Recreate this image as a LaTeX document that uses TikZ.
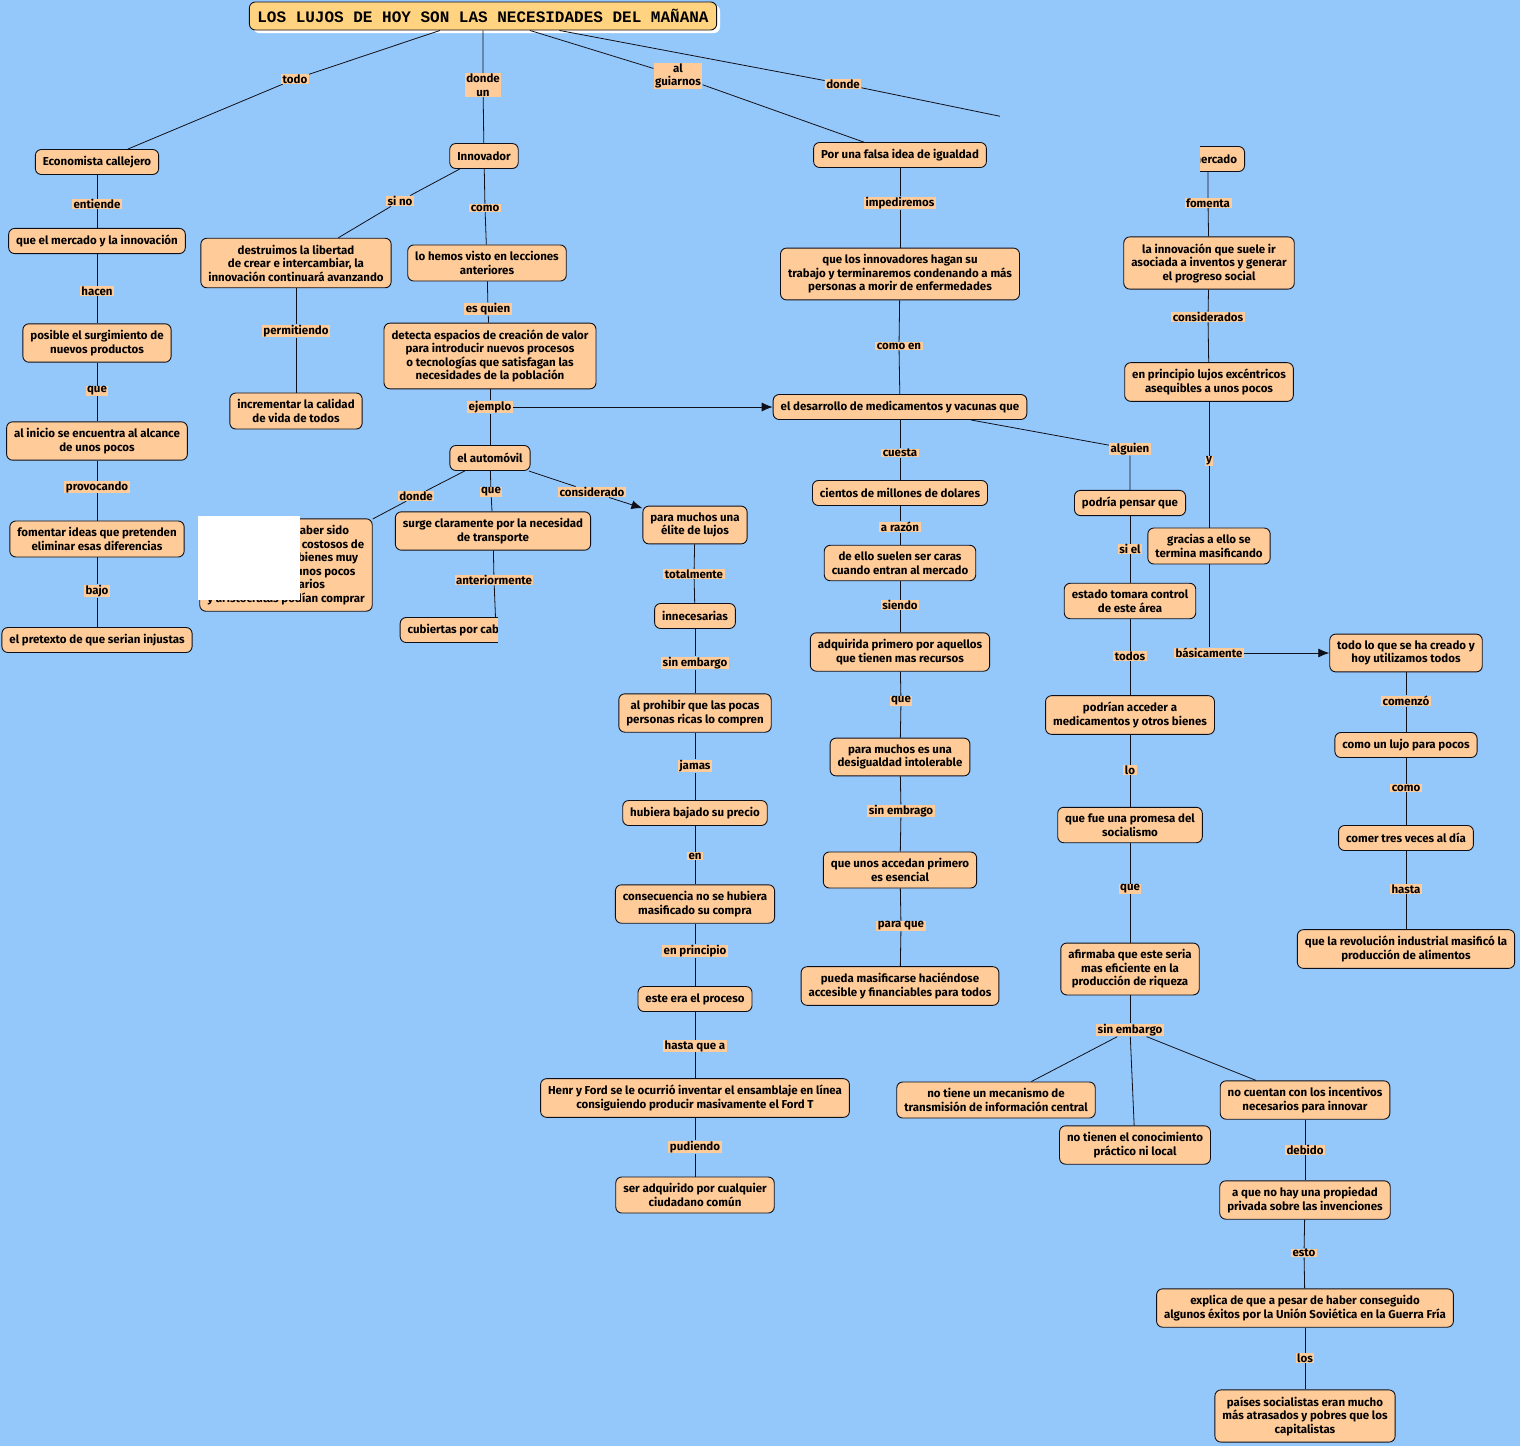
\documentclass[tikz,border=0pt]{standalone}
\usepackage{fontspec}
\setmainfont{Fira Sans}
\newfontfamily\titlefont{Liberation Mono}
\usetikzlibrary{arrows.meta}
\definecolor{MapSky}{RGB}{149,200,250}
\definecolor{MapPeach}{RGB}{255,204,153}
\definecolor{MapGold}{RGB}{255,211,127}
\definecolor{MapInk}{RGB}{15,15,25}
\tikzset{
  map/concept/.style={
    draw=MapInk,
    line width=0.9pt,
    rounded corners=6pt,
    fill=MapPeach,
    align=center,
    text=black,
    inner xsep=7.5pt,
    inner ysep=6.5pt,
    minimum height=25pt,
    font=\fontsize{11.5}{13.5}\selectfont\bfseries
  },
  map/link/.style={
    fill=MapPeach,
    align=center,
    text=black,
    inner xsep=1.5pt,
    inner ysep=0.5pt,
    font=\fontsize{11.5}{13.5}\selectfont\bfseries
  },
  map/title/.style={
    draw=MapInk,
    line width=0.9pt,
    rounded corners=6pt,
    fill=MapGold,
    inner xsep=8pt,
    minimum height=28pt,
    font=\titlefont\fontsize{16}{18}\selectfont\bfseries
  },
  map/line/.style={draw=MapInk, line width=0.8pt},
  map/arrow/.style={map/line, -{Latex[length=11pt,width=9pt]}},
  map/patch/.style={fill=MapSky, draw=none}
}

\begin{document}
\begin{tikzpicture}[x=1pt,y=-1pt]
  \fill[MapSky] (0,0) rectangle (1520,1446);
  \useasboundingbox (0,0) rectangle (1520,1446);
  \fill[white, rounded corners=6pt] (253,5) rectangle (720,33);
  \node[map/title] (title) at (483,16) {LOS LUJOS DE HOY SON LAS NECESIDADES DEL MAÑANA};

  % columna izquierda
  \node[map/concept] (econ) at (97,162) {Economista callejero};
  \node[map/concept] (merc) at (97,241) {que el mercado y la innovación};
  \node[map/concept] (posib) at (97,343) {posible el surgimiento de\\nuevos productos};
  \node[map/concept] (inicio) at (97,441) {al inicio se encuentra al alcance\\de unos pocos};
  \node[map/concept] (foment) at (97,539) {fomentar ideas que pretenden\\eliminar esas diferencias};
  \node[map/concept] (pretex) at (97,640) {el pretexto de que serian injustas};

  \node[map/concept] (destr) at (296,263) {destruimos la libertad\\de crear e intercambiar, la\\innovación continuará avanzando};
  \node[map/concept] (increm) at (296,411) {incrementar la calidad\\de vida de todos};
  \node[map/concept] (haber) at (286,565) {que antes de haber sido\\masificados, eran costosos de\\producir, y eran bienes muy\\exclusivos que unos pocos\\los millonarios\\y aristócratas podían comprar};

  % innovador
  \node[map/concept] (innov) at (484,156) {Innovador};
  \node[map/concept] (lohem) at (487,263) {lo hemos visto en lecciones\\anteriores};
  \node[map/concept] (detecta) at (490,356) {detecta espacios de creación de valor\\para introducir nuevos procesos\\o tecnologías que satisfagan las\\necesidades de la población};
  \node[map/concept] (auto) at (490,458) {el automóvil};
  \node[map/concept] (surge) at (493,531) {surge claramente por la necesidad\\de transporte};
  \node[map/concept] (cubier) at (496,630) {cubiertas por caballos y carruajes};

  \node[map/concept] (elite) at (695,525) {para muchos una\\élite de lujos};
  \node[map/concept] (innec) at (695,616) {innecesarias};
  \node[map/concept] (prohib) at (695,713) {al prohibir que las pocas\\personas ricas lo compren};
  \node[map/concept] (bajado) at (695,813) {hubiera bajado su precio};
  \node[map/concept] (consec) at (695,904) {consecuencia no se hubiera\\masificado su compra};
  \node[map/concept] (proceso) at (695,999) {este era el proceso};
  \node[map/concept] (henry) at (695,1098) {Henr y Ford se le ocurrió inventar el ensamblaje en línea\\consiguiendo producir masivamente el Ford T};
  \node[map/concept] (ciudad) at (695,1195) {ser adquirido por cualquier\\ciudadano común};

  % igualdad
  \node[map/concept] (falsa) at (900,155) {Por una falsa idea de igualdad};
  \node[map/concept] (innovad) at (900,274) {que los innovadores hagan su\\trabajo y terminaremos condenando a más\\personas a morir de enfermedades};
  \node[map/concept] (desarr) at (900,407) {el desarrollo de medicamentos y vacunas que};
  \node[map/concept] (cientos) at (900,493) {cientos de millones de dolares};
  \node[map/concept] (caras) at (900,563) {de ello suelen ser caras\\cuando entran al mercado};
  \node[map/concept] (adquir) at (900,652) {adquirida primero por aquellos\\que tienen mas recursos};
  \node[map/concept] (desig) at (900,757) {para muchos es una\\desigualdad intolerable};
  \node[map/concept] (unos) at (900,870) {que unos accedan primero\\es esencial};
  \node[map/concept] (masif) at (900,986) {pueda masificarse haciéndose\\accesible y financiables para todos};

  \node[map/concept] (podria) at (1130,503) {podría pensar que};
  \node[map/concept] (estado) at (1130,601) {estado tomara control\\de este área};
  \node[map/concept] (podrian) at (1130,715) {podrían acceder a\\medicamentos y otros bienes};
  \node[map/concept] (promesa) at (1130,825) {que fue una promesa del\\socialismo};
  \node[map/concept] (afirma) at (1130,969) {afirmaba que este seria\\mas eficiente en la\\producción de riqueza};
  \node[map/concept] (mecan) at (996,1100) {no tiene un mecanismo de\\transmisión de información central};
  \node[map/concept] (conoc) at (1135,1145) {no tienen el conocimiento\\práctico ni local};
  \node[map/concept] (incent) at (1305,1100) {no cuentan con los incentivos\\necesarios para innovar};
  \node[map/concept] (propied) at (1305,1200) {a que no hay una propiedad\\privada sobre las invenciones};
  \node[map/concept] (explica) at (1305,1308) {explica de que a pesar de haber conseguido\\algunos éxitos por la Unión Soviética en la Guerra Fría};
  \node[map/concept] (paises) at (1305,1416) {países socialistas eran mucho\\más atrasados y pobres que los\\capitalistas};

  % mercado
  \node[map/concept] (mercado) at (1208,159) {el mercado};
  \node[map/concept] (lainn) at (1209,263) {la innovación que suele ir\\asociada a inventos y generar\\el progreso social};
  \node[map/concept] (princ) at (1209,382) {en principio lujos excéntricos\\asequibles a unos pocos};
  \node[map/concept] (gracias) at (1209,546) {gracias a ello se\\termina masificando};
  \node[map/concept] (todo) at (1406,653) {todo lo que se ha creado y\\hoy utilizamos todos};
  \node[map/concept] (lujo) at (1406,745) {como un lujo para pocos};
  \node[map/concept] (comer) at (1406,838) {comer tres veces al día};
  \node[map/concept] (revol) at (1406,949) {que la revolución industrial masificó la\\producción de alimentos};

  % etiquetas de enlace
  \node[map/link] (l-todo) at (295,79) {todo};
  \node[map/link] (l-dondeun) at (483,85) {donde\\un};
  \node[map/link] (l-guiar) at (678,76) {al\\guiarnos};
  \node[map/link] (l-donde) at (843,84) {donde};
  \node[map/link] (l-entiende) at (97,204) {entiende};
  \node[map/link] (l-hacen) at (97,291) {hacen};
  \node[map/link] (l-que1) at (97,391) {que};
  \node[map/link] (l-provoc) at (97,487) {provocando};
  \node[map/link] (l-bajo) at (97,591) {bajo};
  \node[map/link] (l-sino) at (400,201) {si no};
  \node[map/link] (l-permit) at (296,331) {permitiendo};
  \node[map/link] (l-como1) at (485,208) {como};
  \node[map/link] (l-esquien) at (488,309) {es quien};
  \node[map/link] (l-ejemplo) at (490,407) {ejemplo};
  \node[map/link] (l-donde2) at (416,496) {donde};
  \node[map/link] (l-que2) at (491,492) {que};
  \node[map/link] (l-consid) at (592,492) {considerado};
  \node[map/link] (l-anter) at (494,580) {anteriormente};
  \node[map/link] (l-total) at (694,574) {totalmente};
  \node[map/link] (l-sinemb1) at (695,663) {sin embargo};
  \node[map/link] (l-jamas) at (695,766) {jamas};
  \node[map/link] (l-en) at (695,856) {en};
  \node[map/link] (l-enprinc) at (695,951) {en principio};
  \node[map/link] (l-hasta) at (695,1046) {hasta que a};
  \node[map/link] (l-pudiendo) at (695,1147) {pudiendo};
  \node[map/link] (l-imped) at (900,203) {impediremos};
  \node[map/link] (l-comoen) at (899,346) {como en};
  \node[map/link] (l-cuesta) at (900,453) {cuesta};
  \node[map/link] (l-alguien) at (1130,449) {alguien};
  \node[map/link] (l-razon) at (900,527) {a razón};
  \node[map/link] (l-siendo) at (900,605) {siendo};
  \node[map/link] (l-que3) at (901,701) {que};
  \node[map/link] (l-sinembr) at (901,811) {sin embrago};
  \node[map/link] (l-paraque) at (901,926) {para que};
  \node[map/link] (l-siel) at (1130,549) {si el};
  \node[map/link] (l-todos) at (1130,656) {todos};
  \node[map/link] (l-lo) at (1130,770) {lo};
  \node[map/link] (l-que4) at (1130,889) {que};
  \node[map/link] (l-sinemb2) at (1130,1030) {sin embargo};
  \node[map/link] (l-debido) at (1305,1150) {debido};
  \node[map/link] (l-esto) at (1304,1253) {esto};
  \node[map/link] (l-los) at (1305,1358) {los};
  \node[map/link] (l-fomenta) at (1208,203) {fomenta};
  \node[map/link] (l-consids) at (1208,317) {considerados};
  \node[map/link] (l-y) at (1209,461) {y};
  \node[map/link] (l-basic) at (1209,653) {básicamente};
  \node[map/link] (l-comenzo) at (1406,701) {comenzó};
  \node[map/link] (l-como2) at (1406,788) {como};
  \node[map/link] (l-hasta2) at (1406,889) {hasta};

  % conexiones
  \draw[map/line] (title) -- (l-todo) -- (econ);
  \draw[map/line] (title) -- (l-dondeun) -- (innov);
  \draw[map/line] (title) -- (l-guiar) -- (falsa);
  \draw[map/line] (title) -- (l-donde) -- (mercado);
  \draw[map/line] (econ) -- (l-entiende) -- (merc);
  \draw[map/line] (merc) -- (l-hacen) -- (posib);
  \draw[map/line] (posib) -- (l-que1) -- (inicio);
  \draw[map/line] (inicio) -- (l-provoc) -- (foment);
  \draw[map/line] (foment) -- (l-bajo) -- (pretex);
  \draw[map/line] (innov) -- (l-sino) -- (destr);
  \draw[map/line] (destr) -- (l-permit) -- (increm);
  \draw[map/line] (innov) -- (l-como1) -- (lohem);
  \draw[map/line] (lohem) -- (l-esquien) -- (detecta);
  \draw[map/line] (detecta) -- (l-ejemplo) -- (auto);
  \draw[map/arrow] (l-ejemplo) -- (desarr);
  \draw[map/line] (auto) -- (l-donde2) -- (haber);
  \draw[map/line] (auto) -- (l-que2) -- (surge);
  \draw[map/line] (auto) -- (l-consid);
  \draw[map/arrow] (l-consid) -- (elite);
  \draw[map/line] (surge) -- (l-anter) -- (cubier);
  \draw[map/line] (elite) -- (l-total) -- (innec);
  \draw[map/line] (innec) -- (l-sinemb1) -- (prohib);
  \draw[map/line] (prohib) -- (l-jamas) -- (bajado);
  \draw[map/line] (bajado) -- (l-en) -- (consec);
  \draw[map/line] (consec) -- (l-enprinc) -- (proceso);
  \draw[map/line] (proceso) -- (l-hasta) -- (henry);
  \draw[map/line] (henry) -- (l-pudiendo) -- (ciudad);
  \draw[map/line] (falsa) -- (l-imped) -- (innovad);
  \draw[map/line] (innovad) -- (l-comoen) -- (desarr);
  \draw[map/line] (desarr) -- (l-cuesta) -- (cientos);
  \draw[map/line] (desarr) -- (l-alguien) -- (podria);
  \draw[map/line] (cientos) -- (l-razon) -- (caras);
  \draw[map/line] (caras) -- (l-siendo) -- (adquir);
  \draw[map/line] (adquir) -- (l-que3) -- (desig);
  \draw[map/line] (desig) -- (l-sinembr) -- (unos);
  \draw[map/line] (unos) -- (l-paraque) -- (masif);
  \draw[map/line] (podria) -- (l-siel) -- (estado);
  \draw[map/line] (estado) -- (l-todos) -- (podrian);
  \draw[map/line] (podrian) -- (l-lo) -- (promesa);
  \draw[map/line] (promesa) -- (l-que4) -- (afirma);
  \draw[map/line] (afirma) -- (l-sinemb2);
  \draw[map/line] (l-sinemb2) -- (mecan);
  \draw[map/line] (l-sinemb2) -- (conoc);
  \draw[map/line] (l-sinemb2) -- (incent);
  \draw[map/line] (incent) -- (l-debido) -- (propied);
  \draw[map/line] (propied) -- (l-esto) -- (explica);
  \draw[map/line] (explica) -- (l-los) -- (paises);
  \draw[map/line] (mercado) -- (l-fomenta) -- (lainn);
  \draw[map/line] (lainn) -- (l-consids) -- (princ);
  \draw[map/line] (princ) -- (l-y) -- (gracias);
  \draw[map/line] (gracias) -- (l-basic);
  \draw[map/arrow] (l-basic) -- (todo);
  \draw[map/line] (todo) -- (l-comenzo) -- (lujo);
  \draw[map/line] (lujo) -- (l-como2) -- (comer);
  \draw[map/line] (comer) -- (l-hasta2) -- (revol);

  % zonas tapadas
  \fill[map/patch] (1000,100) rectangle (1200,188);
  \fill[map/patch] (498,611) rectangle (600,650);
  \fill[white] (197.5,516) rectangle (300,600);
\end{tikzpicture}
\end{document}
